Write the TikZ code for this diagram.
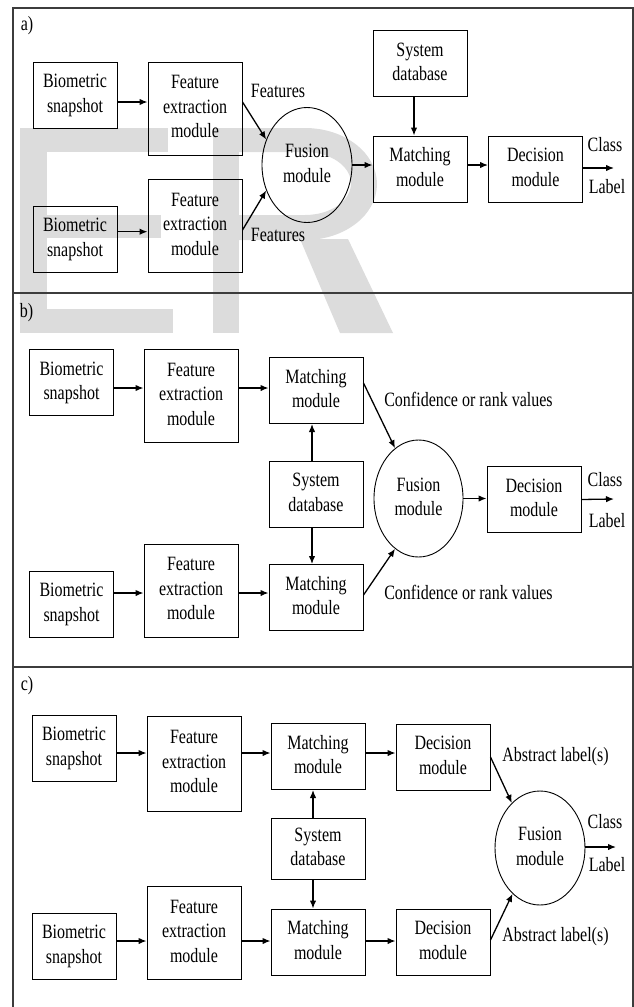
\documentclass[tikz,border=0pt]{standalone}
\usepackage{fontspec}
\setmainfont{Liberation Serif}
\usepackage{graphicx}
\usetikzlibrary{arrows.meta,shapes.geometric}
\definecolor{wm}{RGB}{220,220,220}
\definecolor{framecol}{RGB}{60,60,60}
\newcommand{\st}[1]{\scalebox{1}[1.27]{\begin{tabular}{@{}c@{}}#1\end{tabular}}}
\begin{document}
\begin{tikzpicture}[x=1pt,y=-1pt,
  every node/.style={font=\fontsize{16}{19.3}\selectfont, inner sep=0pt},
  box/.style={draw, line width=1pt},
  bs/.style={box, minimum width=84pt, minimum height=66pt},
  fe/.style={box, minimum width=94pt, minimum height=93pt},
  mm/.style={box, minimum width=94pt, minimum height=66pt},
  fus/.style={draw, line width=0.9pt, ellipse, minimum width=90pt, minimum height=115pt},
  lbl/.style={},
  arr/.style={-{Latex[length=8pt,width=6.5pt]}, line width=1.3pt},
  frame/.style={draw=framecol, line width=1.5pt}]
\useasboundingbox (0,0) rectangle (634,1007);
% watermark
\fill[wm] (20,128) rectangle (47,333);
\fill[wm] (20,128) rectangle (168,152);
\fill[wm] (47,215) rectangle (161,238);
\fill[wm] (20,309) rectangle (173,333);
\fill[wm] (213,128) rectangle (239,333);
\fill[wm, even odd rule] (238,128) -- (305,128) arc[start angle=-90, end angle=90, x radius=72, y radius=56] -- (238,240) -- cycle
  (238,152) -- (305,152) arc[start angle=-90, end angle=90, x radius=46, y radius=31.5] -- (238,215) -- cycle;
\fill[wm] (300,239) -- (348,239) -- (393,333) -- (340,333) -- cycle;
% frames
\draw[frame] (13,1007) -- (13,8) -- (633,8) -- (633,1007);
\draw[frame] (13,293) -- (633,293);
\draw[frame] (13,667) -- (633,667);
% ---------- panel a
\node (la) at (27,26) {\st{a)}};
\node[bs] (a1) at (75,95) {\st{Biometric\\snapshot}};
\node[fe] (a2) at (195,108.5) {\st{Feature\\extraction\\module}};
\node[bs] (a3) at (75,239) {\st{Biometric\\snapshot}};
\node[fe] (a4) at (195,226) {\st{Feature\\extraction\\module}};
\node[fus] (a5) at (307,165) {\st{Fusion\\module}};
\node[mm] (a6) at (420,169) {\st{Matching\\module}};
\node[mm] (a7) at (420,63.5) {\st{System\\database}};
\node[mm] (a8) at (535.5,169) {\st{Decision\\module}};
\node[lbl] (af1) at (278,93) {\st{Features}};
\node[lbl] (af2) at (278,237) {\st{Features}};
\node[lbl] (acl) at (605,147) {\st{Class}};
\node[lbl] (alb) at (607,189) {\st{Label}};
\coordinate (aout) at (614,168);
\draw[arr] ([yshift=-7pt]a1.east) -- ([yshift=6.5pt]a2.west);
\draw[arr] ([yshift=7.3pt]a3.east) -- ([yshift=-5.7pt]a4.west);
\draw[arr] ([yshift=6.5pt]a2.east) -- (a5.148);
\draw[arr] ([yshift=-4pt]a4.east) -- (a5.212);
\draw[arr] (a5.east) -- (a5.east -| a6.west);
\draw[arr] ([xshift=-6pt]a7.south) -- ([xshift=-6pt]a6.north);
\draw[arr] ([yshift=4pt]a6.east) -- ([yshift=4pt]a8.west);
\draw[arr] ([yshift=1pt]a8.east) -- (aout);
% ---------- panel b
\node (lb) at (26.5,313) {\st{b)}};
\node[bs] (b1) at (71.5,382.5) {\st{Biometric\\snapshot}};
\node[fe] (b2) at (191,396) {\st{Feature\\extraction\\module}};
\node[mm] (b3) at (316,390.5) {\st{Matching\\module}};
\node[mm] (b4) at (316,494) {\st{System\\database}};
\node[mm] (b5) at (316,597.5) {\st{Matching\\module}};
\node[bs] (b6) at (71.5,604) {\st{Biometric\\snapshot}};
\node[fe] (b7) at (191,590.5) {\st{Feature\\extraction\\module}};
\node[fus, minimum width=89pt, minimum height=117pt] (b8) at (418.5,498.5) {\st{Fusion\\module}};
\node[mm] (b9) at (534,499.5) {\st{Decision\\module}};
\node[lbl] (bc1) at (468.5,402) {\st{Confidence or rank values}};
\node[lbl] (bc2) at (468.5,595) {\st{Confidence or rank values}};
\node[lbl] (bcl) at (605,482) {\st{Class}};
\node[lbl] (blb) at (607,523) {\st{Label}};
\coordinate (bout) at (614,499);
\draw[arr] ([yshift=-5.5pt]b1.east) -- ([yshift=8pt]b2.west);
\draw[arr] ([yshift=8pt]b2.east) -- ([yshift=2.5pt]b3.west);
\draw[arr] ([yshift=11pt]b6.east) -- ([yshift=-2.5pt]b7.west);
\draw[arr] ([yshift=-2.5pt]b7.east) -- ([yshift=4.5pt]b5.west);
\draw[arr] ([xshift=-4pt]b4.north) -- ([xshift=-4pt]b3.south);
\draw[arr] ([xshift=-4pt]b4.south) -- ([xshift=-4pt]b5.north);
\draw[arr] ([yshift=7.5pt]b3.east) -- (b8.115);
\draw[arr] ([yshift=2.5pt]b5.east) -- (b8.245);
\draw[arr] (b8.east) -- (b8.east -| b9.west);
\draw[arr] (b9.east) -- (bout);
% ---------- panel c
\node (lc) at (27,686) {\st{c)}};
\node[bs] (c1) at (74,748) {\st{Biometric\\snapshot}};
\node[fe, minimum height=95pt] (c2) at (194,763.5) {\st{Feature\\extraction\\module}};
\node[mm] (c3) at (318,756.5) {\st{Matching\\module}};
\node[mm, minimum height=61pt] (c4) at (318,848.5) {\st{System\\database}};
\node[mm] (c5) at (318,942) {\st{Matching\\module}};
\node[bs] (c6) at (74,946) {\st{Biometric\\snapshot}};
\node[fe] (c7) at (194,933) {\st{Feature\\extraction\\module}};
\node[mm] (c8) at (443,757) {\st{Decision\\module}};
\node[mm] (c9) at (443,942) {\st{Decision\\module}};
\node[fus, minimum height=114pt] (c10) at (540,848) {\st{Fusion\\module}};
\node[lbl] (ca1) at (555.5,757) {\st{Abstract label(s)}};
\node[lbl] (ca2) at (555.5,937) {\st{Abstract label(s)}};
\node[lbl] (ccl) at (605,824) {\st{Class}};
\node[lbl] (clb) at (607,867) {\st{Label}};
\coordinate (cout) at (616,847);
\draw[arr] ([yshift=-5pt]c1.east) -- ([yshift=10.5pt]c2.west);
\draw[arr] ([yshift=10.5pt]c2.east) -- ([yshift=3.5pt]c3.west);
\draw[arr] ([yshift=5pt]c6.east) -- ([yshift=-8pt]c7.west);
\draw[arr] ([yshift=-8pt]c7.east) -- ([yshift=1pt]c5.west);
\draw[arr] ([yshift=3.5pt]c3.east) -- ([yshift=4pt]c8.west);
\draw[arr] ([yshift=1pt]c5.east) -- ([yshift=1pt]c9.west);
\draw[arr] ([xshift=-5pt]c4.north) -- ([xshift=-5pt]c3.south);
\draw[arr] ([xshift=-5pt]c4.south) -- ([xshift=-5pt]c5.north);
\draw[arr] (c8.east) -- (c10.122);
\draw[arr] ([yshift=2pt]c9.east) -- (c10.239);
\draw[arr] ([yshift=1pt]c10.east) -- (cout);
\end{tikzpicture}
\end{document}
